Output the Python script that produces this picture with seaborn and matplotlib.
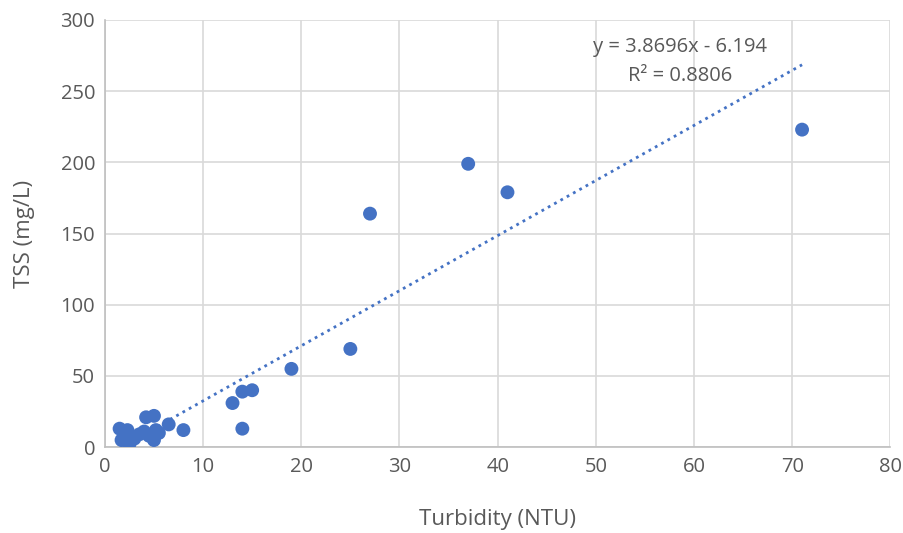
import numpy as np
import pandas as pd
import matplotlib
matplotlib.use("Agg")
import matplotlib.pyplot as plt
import seaborn as sns

# Data
turbidity = [1.5, 1.7, 2.0, 2.3, 2.5, 2.5, 3.0, 3.5, 4.0, 4.2, 4.5, 5.0, 5.0, 5.2,
             5.5, 6.5, 8, 13, 14, 14, 15, 19, 25, 27, 37, 41, 71]
tss = [13, 5, 8, 12, 2, 4, 6, 9, 11, 21, 8, 22, 5, 12,
       10, 16, 12, 31, 13, 39, 40, 55, 69, 164, 199, 179, 223]
slope = 3.8696
intercept = -6.194
r2 = 0.8806

df = pd.DataFrame({"Turbidity": turbidity, "TSS": tss})

sns.set_style("white")
plt.rcParams['font.family'] = ['Open Sans', 'DejaVu Sans']

blue = "#4472C4"
grey = "#595959"

fig = plt.figure(figsize=(9.04, 5.33), dpi=100)
ax = fig.add_axes([0.116, 0.161, 0.869, 0.8015])

# trendline over the data range
xs = np.array([min(turbidity), max(turbidity)])
trend = pd.DataFrame({"x": xs, "y": slope * xs + intercept})
sns.lineplot(data=trend, x="x", y="y", ax=ax, color=blue, linestyle=(0, (1, 1.6)),
             linewidth=2.0, zorder=2)

sns.scatterplot(data=df, x="Turbidity", y="TSS", ax=ax, color=blue, s=100,
                edgecolor="none", zorder=3)

ax.set_xlim(0, 80)
ax.set_ylim(0, 300)
ax.set_xticks(range(0, 81, 10))
ax.set_yticks(range(0, 301, 50))
ax.grid(True, color="#d9d9d9", linewidth=1.2)
ax.set_axisbelow(True)
for side in ["top", "right"]:
    ax.spines[side].set_visible(False)
for side in ["left", "bottom"]:
    ax.spines[side].set_color("#bfbfbf")
    ax.spines[side].set_linewidth(1.2)
ax.tick_params(axis="both", length=0, labelsize=14.5, labelcolor=grey, pad=7)

ax.set_xlabel("Turbidity (NTU)", fontsize=16, color=grey, va="center")
ax.set_ylabel("TSS (mg/L)", fontsize=16, color=grey, va="center")
ax.xaxis.set_label_coords(0.5, -0.169)
ax.yaxis.set_label_coords(-0.102, 0.5)

ax.text(58.6, 281, f"y = {slope}x - {abs(intercept)}", ha="center", va="center",
        fontsize=14.5, color=grey)
ax.text(58.6, 261, f"R² = {r2}", ha="center", va="center", fontsize=14.5, color=grey)

fig.savefig("out.png", dpi=100)
